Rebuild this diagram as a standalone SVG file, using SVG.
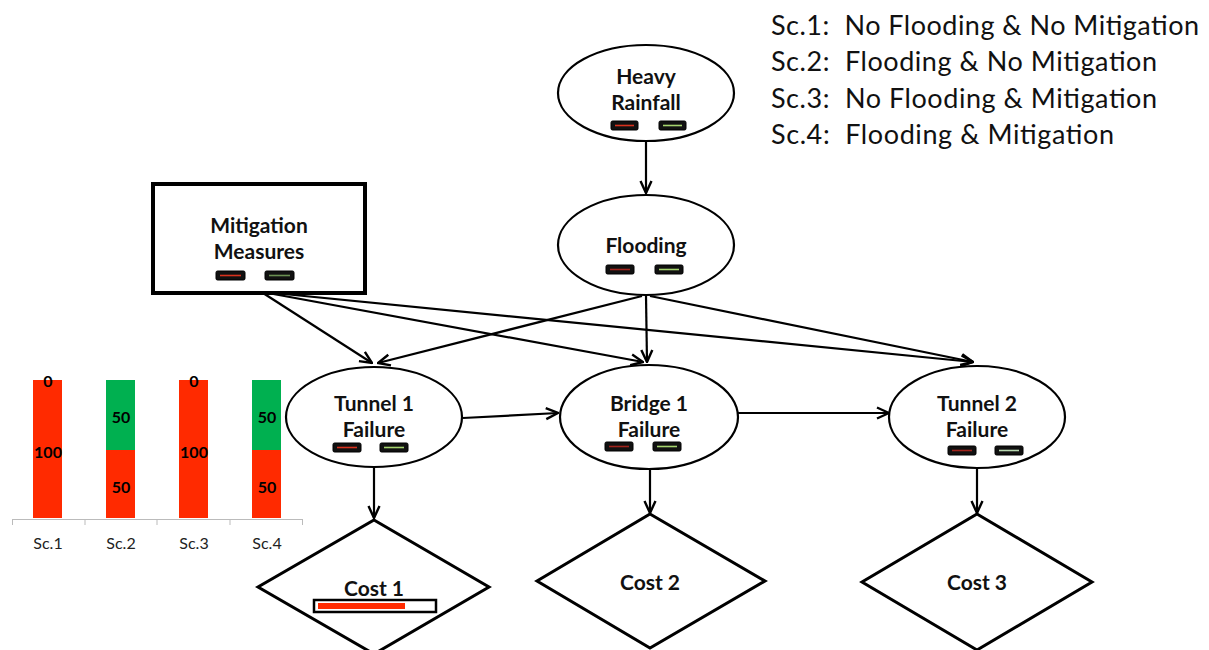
<svg xmlns="http://www.w3.org/2000/svg" width="1209" height="650" viewBox="0 0 1209 650">
<style>
.node{fill:#fff;stroke:#000;stroke-width:2.2}
.dia{fill:#fff;stroke:#000;stroke-width:3}
.lbl{font-family:Lato,"Liberation Sans",sans-serif;font-weight:bold;font-size:21px;fill:#111;text-anchor:middle}
.leg{font-family:Lato,"Liberation Sans",sans-serif;font-size:27px;fill:#111}
.ind{fill:#111;stroke:#000;stroke-width:1}
.r{stroke:#d8321e;stroke-width:1.6}
.g{stroke:#a6d46e;stroke-width:1.6}
.edge{stroke:#000;stroke-width:2.2;fill:none;marker-end:url(#ah)}
.bl{font-family:Lato,"Liberation Sans",sans-serif;font-weight:bold;font-size:16px;fill:#000;text-anchor:middle}
.ax{font-family:Lato,"Liberation Sans",sans-serif;font-size:16px;fill:#222;text-anchor:middle}
</style>
<defs>
<marker id="ah" viewBox="0 0 14 14" refX="13" refY="7" markerWidth="14" markerHeight="14" markerUnits="userSpaceOnUse" orient="auto">
<path d="M1,1.5 L13,7 L1,12.5" fill="none" stroke="#000" stroke-width="2.4"/>
</marker>
</defs>
<rect width="1209" height="650" fill="#fff"/>

<g id="legend">
<text class="leg" x="771" y="35" xml:space="preserve" textLength="428" lengthAdjust="spacing">Sc.1:  No Flooding &amp; No Mitigation</text>
<text class="leg" x="771" y="71" xml:space="preserve" textLength="386" lengthAdjust="spacing">Sc.2:  Flooding &amp; No Mitigation</text>
<text class="leg" x="771" y="108" xml:space="preserve" textLength="386" lengthAdjust="spacing">Sc.3:  No Flooding &amp; Mitigation</text>
<text class="leg" x="771" y="144" xml:space="preserve" textLength="343" lengthAdjust="spacing">Sc.4:  Flooding &amp; Mitigation</text>
</g>

<g id="connectors">
<line class="edge" x1="646" y1="141" x2="646" y2="193"/>
<line class="edge" x1="263" y1="293" x2="372" y2="363"/>
<line class="edge" x1="268" y1="293" x2="643" y2="362"/>
<line class="edge" x1="274" y1="293" x2="973" y2="362"/>
<line class="edge" x1="642" y1="296" x2="378" y2="363"/>
<line class="edge" x1="646" y1="296" x2="647" y2="362"/>
<line class="edge" x1="650" y1="296" x2="973" y2="362"/>
<line class="edge" x1="463" y1="418" x2="558" y2="413"/>
<line class="edge" x1="738" y1="413" x2="889" y2="413"/>
<line class="edge" x1="374" y1="467" x2="374" y2="518"/>
<line class="edge" x1="650" y1="470" x2="650" y2="513"/>
<line class="edge" x1="977" y1="468" x2="977" y2="513"/>
</g>

<g id="heavy-rainfall">
<ellipse class="node" cx="646" cy="93" rx="88" ry="48"/>
<text class="lbl" x="646" y="84">Heavy</text>
<text class="lbl" x="646" y="110">Rainfall</text>
<rect class="ind" x="611" y="121" width="27" height="9" rx="1.5"/><line class="r" x1="615" y1="125.5" x2="634" y2="125.5"/>
<rect class="ind" x="659" y="121" width="27" height="9" rx="1.5"/><line class="g" x1="663" y1="125.5" x2="682" y2="125.5"/>
</g>

<g id="flooding">
<ellipse class="node" cx="646" cy="245" rx="88" ry="50"/>
<text class="lbl" x="646" y="253">Flooding</text>
<rect class="ind" x="606" y="265" width="28" height="9" rx="1.5"/><line class="r" x1="610" y1="269.5" x2="630" y2="269.5" style="stroke:#a0231c"/>
<rect class="ind" x="655" y="265" width="28" height="9" rx="1.5"/><line class="g" x1="659" y1="269.5" x2="679" y2="269.5"/>
</g>

<g id="mitigation">
<rect x="153" y="184" width="212" height="109" fill="#fff" stroke="#000" stroke-width="4"/>
<text class="lbl" x="259" y="233">Mitigation</text>
<text class="lbl" x="259" y="259">Measures</text>
<rect class="ind" x="216" y="271" width="29" height="9" rx="1.5"/><line class="r" x1="220" y1="275.5" x2="241" y2="275.5"/>
<rect class="ind" x="265" y="271" width="29" height="9" rx="1.5"/><line class="g" x1="269" y1="275.5" x2="290" y2="275.5" style="stroke:#6a8f52"/>
</g>

<g id="tunnel1">
<ellipse class="node" cx="374" cy="417" rx="88" ry="50"/>
<text class="lbl" x="374" y="411">Tunnel 1</text>
<text class="lbl" x="374" y="437">Failure</text>
<rect class="ind" x="333" y="443" width="28" height="9" rx="1.5"/><line class="r" x1="337" y1="447.5" x2="357" y2="447.5"/>
<rect class="ind" x="380" y="443" width="28" height="9" rx="1.5"/><line class="g" x1="384" y1="447.5" x2="404" y2="447.5"/>
</g>

<g id="bridge1">
<ellipse class="node" cx="649" cy="417" rx="89" ry="52"/>
<text class="lbl" x="649" y="411">Bridge 1</text>
<text class="lbl" x="649" y="437">Failure</text>
<rect class="ind" x="605" y="442" width="28" height="9" rx="1.5"/><line class="r" x1="609" y1="446.5" x2="629" y2="446.5" style="stroke:#a0231c"/>
<rect class="ind" x="653" y="442" width="28" height="9" rx="1.5"/><line class="g" x1="657" y1="446.5" x2="677" y2="446.5"/>
</g>

<g id="tunnel2">
<ellipse class="node" cx="977" cy="417" rx="88" ry="51"/>
<text class="lbl" x="977" y="411">Tunnel 2</text>
<text class="lbl" x="977" y="437">Failure</text>
<rect class="ind" x="948" y="446" width="28" height="9" rx="1.5"/><line class="r" x1="952" y1="450.5" x2="972" y2="450.5" style="stroke:#a0231c"/>
<rect class="ind" x="995" y="446" width="28" height="9" rx="1.5"/><line class="g" x1="999" y1="450.5" x2="1019" y2="450.5" style="stroke:#b8d8b0"/>
</g>

<g id="cost1">
<polygon class="dia" points="374,520 489,587 374,654 258,587"/>
<text class="lbl" x="374" y="596">Cost 1</text>
<rect x="314" y="600" width="122" height="12" fill="#fff" stroke="#000" stroke-width="2.5"/>
<rect x="318" y="603" width="87" height="6" fill="#ff2a00"/>
</g>

<g id="cost2">
<polygon class="dia" points="650,514 765,581 650,648 537,581"/>
<text class="lbl" x="650" y="590">Cost 2</text>
</g>

<g id="cost3">
<polygon class="dia" points="977,514 1092,582 977,650 862,582"/>
<text class="lbl" x="977" y="590">Cost 3</text>
</g>

<g id="chart">
<rect x="33" y="380" width="29" height="138" fill="#ff2a00"/>
<rect x="106" y="380" width="29" height="70" fill="#00b050"/>
<rect x="106" y="450" width="29" height="68" fill="#ff2a00"/>
<rect x="179" y="380" width="29" height="138" fill="#ff2a00"/>
<rect x="252" y="380" width="29" height="70" fill="#00b050"/>
<rect x="252" y="450" width="29" height="68" fill="#ff2a00"/>
<path d="M12,519.5 H303 M12.5,519 V525 M85,519 V525 M157,519 V525 M230,519 V525 M302.5,519 V525" stroke="#bbb" stroke-width="1" fill="none"/>
<text class="bl" x="48" y="387">0</text>
<text class="bl" x="48" y="458">100</text>
<text class="bl" x="121" y="423">50</text>
<text class="bl" x="121" y="493">50</text>
<text class="bl" x="194" y="387">0</text>
<text class="bl" x="194" y="458">100</text>
<text class="bl" x="267" y="423">50</text>
<text class="bl" x="267" y="493">50</text>
<text class="ax" x="48" y="549">Sc.1</text>
<text class="ax" x="121" y="549">Sc.2</text>
<text class="ax" x="194" y="549">Sc.3</text>
<text class="ax" x="267" y="549">Sc.4</text>
</g>
</svg>
